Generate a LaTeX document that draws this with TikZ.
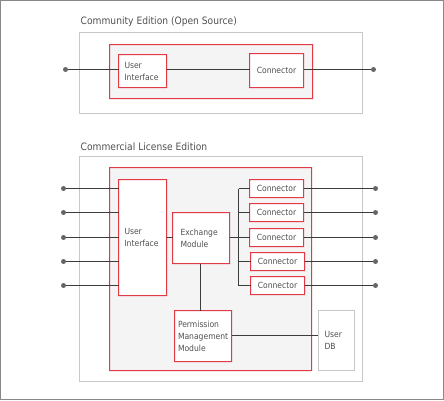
\documentclass[tikz,border=0pt]{standalone}
\usepackage{fontspec}
\setmainfont{DejaVu Sans Condensed}[Color=505050]
\usetikzlibrary{calc}
\definecolor{redc}{HTML}{E23A44}
\definecolor{grayc}{HTML}{C8C8C8}
\definecolor{framec}{HTML}{888888}
\definecolor{linec}{HTML}{3C3C3C}
\definecolor{dotc}{HTML}{666666}
\definecolor{panelc}{HTML}{F4F4F4}
\begin{document}
\begin{tikzpicture}[x=1bp,y=-1bp,
  font=\fontsize{8.5}{12}\selectfont,
  container/.style={draw=grayc, fill=white, line width=1bp, inner sep=0pt},
  panel/.style={draw=none, fill=panelc, inner sep=0pt, outer sep=0pt},
  box/.style={draw=none, fill=white, inner sep=0pt, outer sep=0pt},
  dbbox/.style={draw=grayc, fill=white, line width=1bp, inner sep=0pt},
  conbox/.style={box, minimum width=54bp, minimum height=18bp, align=center},
  title/.style={anchor=west, inner sep=0pt, font=\fontsize{10.2}{12}\selectfont},
  dot/.style={circle, draw=none, fill=dotc, inner sep=0pt, minimum size=5bp},
  ln/.style={draw=linec, line width=1bp},
  redframe/.style={fill=redc, even odd rule}]
\useasboundingbox (-0.5,-0.5) rectangle (443.5,399.5);
\draw[draw=framec, line width=1bp] (0,0) rectangle (443,399);

% ---------- Community Edition ----------
\node[title] (title1) at (80,21) {Community Edition (Open Source)};
\node[container, minimum width=283bp, minimum height=81bp] (gray1) at (220.5,72.5) {};
\node[panel, minimum width=203bp, minimum height=54bp] (red1) at (210.5,71) {};
\node[box, minimum width=48bp, minimum height=33bp, text width=36bp, inner xsep=6bp, align=left] (ui1) at (142,70.5) {User\\Interface};
\node[box, minimum width=54bp, minimum height=34bp, align=center] (con1) at (276,70) {Connector};
\node[dot] (dl0) at (65,69) {};
\node[dot] (dr0) at (373,69) {};

% ---------- Commercial License Edition ----------
\node[title] (title2) at (80,146.5) {Commercial License Edition};
\node[container, minimum width=283bp, minimum height=225bp] (gray2) at (220.5,268.5) {};
\node[panel, minimum width=202bp, minimum height=203bp] (red2) at (210,268.5) {};
\node[box, minimum width=48bp, minimum height=116bp, text width=36bp, inner xsep=6bp, align=left] (ui2) at (142,237) {User\\Interface};
\node[box, minimum width=57bp, minimum height=51bp, text width=41bp, inner xsep=8bp, align=left] (ex) at (200.5,237.5) {Exchange\\Module};
\node[box, minimum width=57bp, minimum height=51bp, text width=50bp, inner xsep=3.5bp, align=left] (pm) at (202.5,335.5) {Permission\\Management\\Module};
\node[dbbox, minimum width=36bp, minimum height=60bp, text width=24bp, inner xsep=6bp, align=left] (db) at (336,340) {User\\DB\\[4pt]};
\node[conbox] (c1) at (276,188) {Connector};
\node[conbox] (c2) at (276,212) {Connector};
\node[conbox] (c3) at (276,237) {Connector};
\node[conbox] (c4) at (277,261) {Connector};
\node[conbox] (c5) at (277,285) {Connector};

% red borders drawn as filled frames
\foreach \n in {red1,ui1,con1,red2,ui2,ex,pm,c1,c2,c3,c4,c5}{
  \fill[redframe]
    ($(\n.south west)+(-0.5,0.5)$) rectangle ($(\n.north east)+(0.5,-0.5)$)
    ($(\n.south west)+(0.5,-0.5)$) rectangle ($(\n.north east)+(-0.5,0.5)$);
}

% connectors
\draw[ln] (dl0) -- (dl0 -| ui1.west);
\draw[ln] (ui1.east |- dl0) -- (con1.west |- dl0);
\draw[ln] (con1.east |- dr0) -- (dr0);

\foreach \i/\yy in {1/188,2/212,3/237,4/261,5/285}{
  \node[dot] (dl\i) at (63,\yy) {};
  \node[dot] (dr\i) at (375,\yy) {};
}
\foreach \i in {1,...,5}{
  \draw[ln] (dl\i) -- (dl\i -| ui2.west);
  \draw[ln] (c\i.east |- dr\i) -- (dr\i);
}
\coordinate (tk1) at (238,188);
\coordinate (tk5) at (238,285);
\draw[ln] (tk1) -- (tk5);
\draw[ln] (tk1) -- (c1.west);
\draw[ln] (tk1 |- c2.west) -- (c2.west);
\draw[ln] (tk1 |- c4.west) -- (c4.west);
\draw[ln] (tk5) -- (c5.west);
\draw[ln] (ex.east |- c3.west) -- (c3.west);
\draw[ln] (ui2.east |- c3.west) -- (ex.west |- c3.west);
\draw[ln] (200,263) coordinate (exs) (ex.south -| exs) -- (pm.north -| exs);
\draw[ln] (pm.east |- db.west) ++(0,-5) coordinate (pmd) (pm.east |- pmd) -- (db.west |- pmd);
\end{tikzpicture}
\end{document}
